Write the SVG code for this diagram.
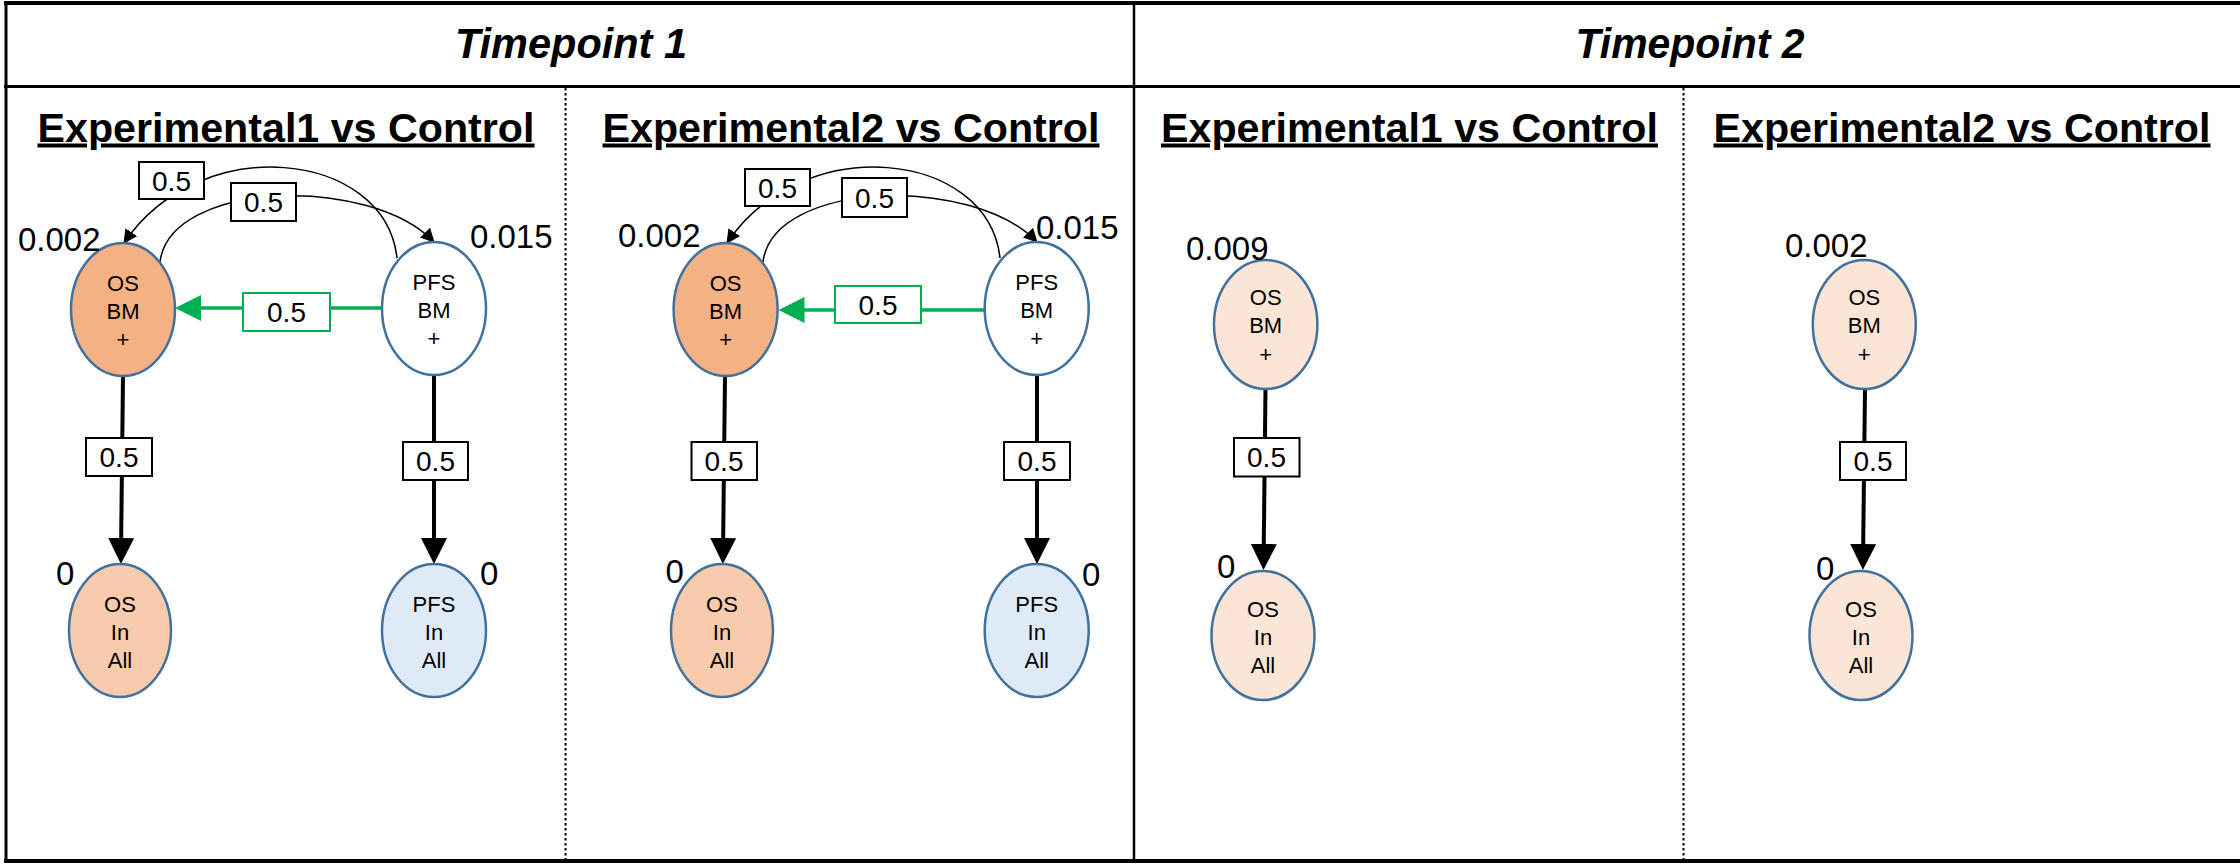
<svg xmlns="http://www.w3.org/2000/svg" width="2240" height="865" viewBox="0 0 2240 865">
<style>
text{font-family:"Liberation Sans",Arial,sans-serif;fill:#000}
.hdr{font-size:43px;font-weight:bold;font-style:italic;text-anchor:middle}
.sub{font-size:40px;font-weight:bold;text-anchor:middle;text-decoration:underline}
.nl{font-size:22px;text-anchor:middle}
.val{font-size:33px}
.lbl{font-size:28px;text-anchor:middle}
.node{stroke:#41719C;stroke-width:2.5}
.frame{stroke:#000;fill:none}
.dash{stroke:#000;stroke-width:2;stroke-dasharray:2.5 2.5;fill:none}
.thin{stroke:#000;stroke-width:1.5;fill:none}
.thick{stroke:#000;stroke-width:4;fill:none}
.green{stroke:#00B050;stroke-width:3.5;fill:none}
.box{fill:#fff;stroke:#000;stroke-width:2}
.gbox{fill:#fff;stroke:#00B050;stroke-width:2}
</style>
<defs>
<marker id="aThin" markerUnits="userSpaceOnUse" viewBox="0 0 14 14" markerWidth="14" markerHeight="14" refX="13" refY="7" orient="auto"><path d="M0,0 L14,7 L0,14 z" fill="#000"/></marker>
<marker id="aThick" markerUnits="userSpaceOnUse" viewBox="0 0 26 26" markerWidth="26" markerHeight="26" refX="16" refY="13" orient="auto"><path d="M0,0 L26,13 L0,26 z" fill="#000"/></marker>
<marker id="aGreen" markerUnits="userSpaceOnUse" viewBox="0 0 26 26" markerWidth="26" markerHeight="26" refX="16" refY="13" orient="auto"><path d="M0,0 L26,13 L0,26 z" fill="#00B050"/></marker>
</defs>
<rect width="2240" height="865" fill="#fff"/>
<g id="frame">
<line class="frame" x1="4" y1="3" x2="2240" y2="3" stroke-width="4"/>
<line class="frame" x1="4" y1="86.5" x2="2240" y2="86.5" stroke-width="3"/>
<line class="frame" x1="4" y1="861" x2="2240" y2="861" stroke-width="4"/>
<line class="frame" x1="6" y1="1" x2="6" y2="863" stroke-width="3"/>
<line class="frame" x1="1134" y1="3" x2="1134" y2="861" stroke-width="2.5"/>
<line class="dash" x1="565.5" y1="88" x2="565.5" y2="859"/>
<line class="dash" x1="1683.5" y1="88" x2="1683.5" y2="859"/>
<text class="hdr" x="571" y="58" textLength="232" lengthAdjust="spacingAndGlyphs">Timepoint 1</text>
<text class="hdr" x="1690" y="58" textLength="229" lengthAdjust="spacingAndGlyphs">Timepoint 2</text>
<text class="sub" x="286" y="141.5" textLength="497" lengthAdjust="spacingAndGlyphs">Experimental1 vs Control</text>
<text class="sub" x="851" y="141.5" textLength="497" lengthAdjust="spacingAndGlyphs">Experimental2 vs Control</text>
<text class="sub" x="1409.5" y="141.5" textLength="497" lengthAdjust="spacingAndGlyphs">Experimental1 vs Control</text>
<text class="sub" x="1962" y="141.5" textLength="497" lengthAdjust="spacingAndGlyphs">Experimental2 vs Control</text>
</g>
<g id="connectors">
<path class="thin" d="M397,258 C385,150 200,130 124,243" marker-end="url(#aThin)"/>
<path class="thin" d="M160,262 C170,180 370,175 434,242" marker-end="url(#aThin)"/>
<path class="green" d="M382,308 L185,308" marker-end="url(#aGreen)"/>
<path class="thick" d="M123,376 L121,554" marker-end="url(#aThick)"/>
<path class="thick" d="M434,375 L434,554" marker-end="url(#aThick)"/>
<rect class="box" x="139" y="162" width="65" height="37"/><text class="lbl" x="171.5" y="190.5">0.5</text>
<rect class="box" x="231" y="183" width="65" height="38"/><text class="lbl" x="263.5" y="212">0.5</text>
<rect class="gbox" x="243" y="293" width="87" height="38"/><text class="lbl" x="286.5" y="322">0.5</text>
<rect class="box" x="86" y="438" width="66" height="38"/><text class="lbl" x="119" y="467">0.5</text>
<rect class="box" x="403" y="442" width="65" height="38"/><text class="lbl" x="435.5" y="471">0.5</text>
<path class="thin" d="M1000,258 C988,150 803,130 727,243" marker-end="url(#aThin)"/>
<path class="thin" d="M763,262 C773,180 973,175 1037,242" marker-end="url(#aThin)"/>
<path class="green" d="M985,310 L788.5,310" marker-end="url(#aGreen)"/>
<path class="thick" d="M725,376 L723,554" marker-end="url(#aThick)"/>
<path class="thick" d="M1037,375 L1037,554" marker-end="url(#aThick)"/>
<rect class="box" x="745" y="169" width="65" height="37"/><text class="lbl" x="777.5" y="197.5">0.5</text>
<rect class="box" x="842" y="178" width="65" height="39"/><text class="lbl" x="874.5" y="207.5">0.5</text>
<rect class="gbox" x="835" y="286" width="86" height="37"/><text class="lbl" x="878" y="314.5">0.5</text>
<rect class="box" x="691.5" y="442" width="65.5" height="38"/><text class="lbl" x="724" y="471">0.5</text>
<rect class="box" x="1004" y="442" width="66" height="38"/><text class="lbl" x="1037" y="471">0.5</text>
<path class="thick" d="M1265.5,389 L1263.6,560" marker-end="url(#aThick)"/>
<rect class="box" x="1234" y="438" width="65.5" height="38.5"/><text class="lbl" x="1266.5" y="467">0.5</text>
<path class="thick" d="M1865,389 L1863,560" marker-end="url(#aThick)"/>
<rect class="box" x="1840" y="442" width="66" height="38"/><text class="lbl" x="1873" y="471">0.5</text>
</g>
<g id="p1-osbm"><ellipse class="node" cx="123" cy="309.5" rx="52" ry="66.5" fill="#F4B183"/><text class="nl" x="123" y="290.5">OS</text><text class="nl" x="123" y="318.5">BM</text><text class="nl" x="123" y="347">+</text><text class="val" x="18" y="251">0.002</text></g>
<g id="p1-pfsbm"><ellipse class="node" cx="434" cy="308.5" rx="52" ry="66.5" fill="#fff"/><text class="nl" x="434" y="289.5">PFS</text><text class="nl" x="434" y="317.5">BM</text><text class="nl" x="434" y="346">+</text><text class="val" x="470" y="248">0.015</text></g>
<g id="p1-osin"><ellipse class="node" cx="120" cy="630.5" rx="51" ry="66.5" fill="#F8CBAD"/><text class="nl" x="120" y="612">OS</text><text class="nl" x="120" y="640">In</text><text class="nl" x="120" y="668">All</text><text class="val" x="56" y="585">0</text></g>
<g id="p1-pfsin"><ellipse class="node" cx="434" cy="630.5" rx="52" ry="66.5" fill="#DEEBF7"/><text class="nl" x="434" y="612">PFS</text><text class="nl" x="434" y="640">In</text><text class="nl" x="434" y="668">All</text><text class="val" x="480" y="585">0</text></g>
<g id="p2-osbm"><ellipse class="node" cx="725.6" cy="309.5" rx="52" ry="66.5" fill="#F4B183"/><text class="nl" x="725.6" y="290.5">OS</text><text class="nl" x="725.6" y="318.5">BM</text><text class="nl" x="725.6" y="347">+</text><text class="val" x="618" y="247">0.002</text></g>
<g id="p2-pfsbm"><ellipse class="node" cx="1036.7" cy="308.5" rx="52" ry="66.5" fill="#fff"/><text class="nl" x="1036.7" y="289.5">PFS</text><text class="nl" x="1036.7" y="317.5">BM</text><text class="nl" x="1036.7" y="346">+</text><text class="val" x="1036" y="239">0.015</text></g>
<g id="p2-osin"><ellipse class="node" cx="722" cy="630.5" rx="51" ry="66.5" fill="#F8CBAD"/><text class="nl" x="722" y="612">OS</text><text class="nl" x="722" y="640">In</text><text class="nl" x="722" y="668">All</text><text class="val" x="665.5" y="583">0</text></g>
<g id="p2-pfsin"><ellipse class="node" cx="1036.7" cy="630.5" rx="52" ry="66.5" fill="#DEEBF7"/><text class="nl" x="1036.7" y="612">PFS</text><text class="nl" x="1036.7" y="640">In</text><text class="nl" x="1036.7" y="668">All</text><text class="val" x="1082" y="586">0</text></g>
<g id="p3-osbm"><ellipse class="node" cx="1265.7" cy="324.5" rx="51.7" ry="64.5" fill="#FBE5D6"/><text class="nl" x="1265.7" y="305">OS</text><text class="nl" x="1265.7" y="333">BM</text><text class="nl" x="1265.7" y="362">+</text><text class="val" x="1186" y="260">0.009</text></g>
<g id="p3-osin"><ellipse class="node" cx="1263" cy="635.5" rx="51.5" ry="64.5" fill="#FBE5D6"/><text class="nl" x="1263" y="617">OS</text><text class="nl" x="1263" y="645">In</text><text class="nl" x="1263" y="673">All</text><text class="val" x="1217" y="578">0</text></g>
<g id="p4-osbm"><ellipse class="node" cx="1864.3" cy="324.5" rx="51.5" ry="64.5" fill="#FBE5D6"/><text class="nl" x="1864.3" y="305">OS</text><text class="nl" x="1864.3" y="333">BM</text><text class="nl" x="1864.3" y="362">+</text><text class="val" x="1785" y="257">0.002</text></g>
<g id="p4-osin"><ellipse class="node" cx="1861" cy="635.5" rx="51.5" ry="64.5" fill="#FBE5D6"/><text class="nl" x="1861" y="617">OS</text><text class="nl" x="1861" y="645">In</text><text class="nl" x="1861" y="673">All</text><text class="val" x="1816" y="580">0</text></g>
</svg>
